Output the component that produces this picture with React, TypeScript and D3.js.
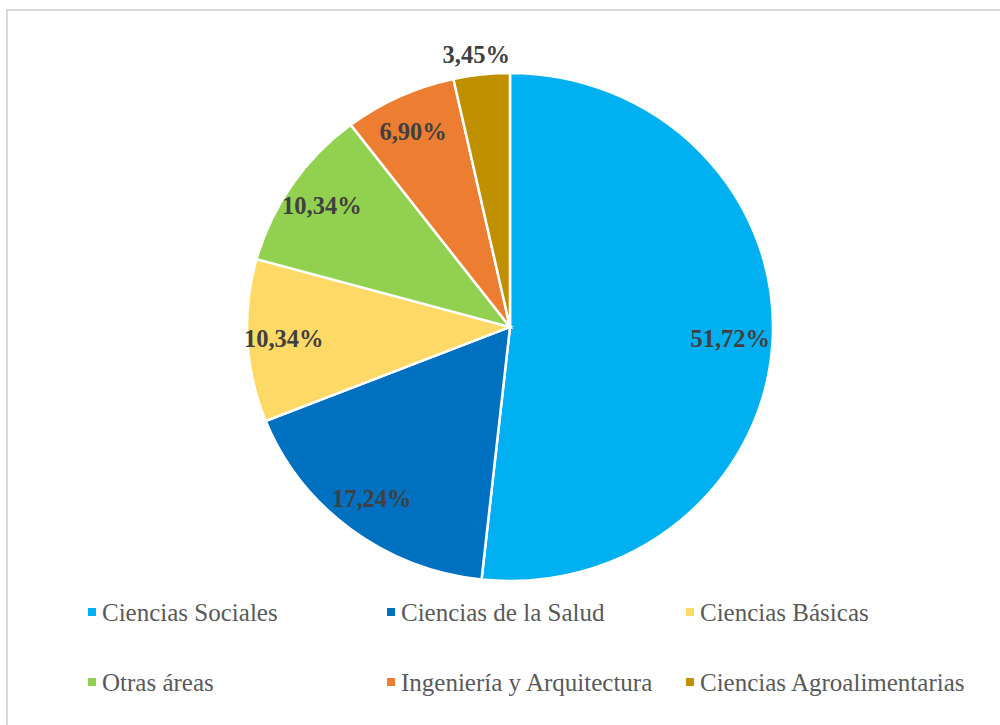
import { useEffect, useRef } from "react";
import * as d3 from "d3";

const categories = [
  "Ciencias Sociales",
  "Ciencias de la Salud",
  "Ciencias Básicas",
  "Otras áreas",
  "Ingeniería y Arquitectura",
  "Ciencias Agroalimentarias",
];
const values = [51.72, 17.24, 10.34, 10.34, 6.9, 3.45];
const colors = ["#00B0F0", "#0070C0", "#FFD966", "#92D050", "#ED7D31", "#BF9000"];

const PieChart = ({ width = 1000, height = 725 }) => {
  const ref = useRef<SVGSVGElement | null>(null);

  useEffect(() => {
    if (!ref.current) return;
    const svg = d3.select(ref.current);
    svg.selectAll("*").remove(); // Clear previous content

    // chart area frame
    svg
      .append("rect")
      .attr("x", 7)
      .attr("y", 10)
      .attr("width", width + 20)
      .attr("height", height + 20)
      .attr("fill", "#fff")
      .attr("stroke", "#d9d9d9")
      .attr("stroke-width", 2);

    const cx = 510;
    const cy = 327;
    const ry = 254;
    const rx = 263; // the original is slightly stretched horizontally
    const sx = rx / ry;

    const data = categories.map((name, i) => ({ name, value: values[i], color: colors[i] }));
    const pie = d3
      .pie<any>()
      .sort(null)
      .value((d) => d.value);
    const arcs = pie(data);

    const arc = d3.arc<any>().innerRadius(0).outerRadius(ry);

    const g = svg.append("g").attr("transform", `translate(${cx},${cy}) scale(${sx},1)`);
    g.selectAll("path")
      .data(arcs)
      .join("path")
      .attr("d", arc)
      .attr("fill", (d) => d.data.color)
      .attr("stroke", "#fff")
      .attr("stroke-width", 2.5)
      .attr("vector-effect", "non-scaling-stroke");

    // data labels: inside for wide slices, outside for the small one
    const fmt = (v: number) => v.toFixed(2).replace(".", ",") + "%";
    svg
      .append("g")
      .selectAll("text")
      .data(arcs)
      .join("text")
      .attr("transform", (d) => {
        const r = d.data.value < 5 ? 1.08 * ry : 0.85 * ry;
        const [x, y] = d3.arc<any>().innerRadius(r).outerRadius(r).centroid(d);
        return `translate(${cx + x * sx - 3},${cy + y})`;
      })
      .attr("text-anchor", "middle")
      .attr("dy", "0.35em")
      .attr("font-family", "'Liberation Serif', 'Times New Roman', serif")
      .attr("font-weight", "bold")
      .attr("font-size", 24.5)
      .attr("fill", "#404040")
      .text((d) => fmt(d.data.value));

    // legend, 3 columns x 2 rows
    const col = d3.scaleLinear().domain([0, 1]).range([88, 387]);
    const row = d3.scaleLinear().domain([0, 1]).range([612, 682]);
    const lg = svg
      .append("g")
      .selectAll("g")
      .data(data)
      .join("g")
      .attr("transform", (d, i) => `translate(${col(i % 3)},${row(Math.floor(i / 3))})`);
    lg.append("rect")
      .attr("x", 0)
      .attr("y", -4)
      .attr("width", 8)
      .attr("height", 8)
      .attr("fill", (d) => d.color);
    lg.append("text")
      .attr("x", 14)
      .attr("dy", "0.35em")
      .attr("font-family", "'Liberation Serif', 'Times New Roman', serif")
      .attr("font-size", 25)
      .attr("fill", "#595959")
      .text((d) => d.name);
  }, [width, height]);

  return (
    <svg
      ref={ref}
      width={width}
      height={height}
      style={{ position: "absolute", left: 0, top: 0 }}
    ></svg>
  );
};

export default function App() {
  return <PieChart />;
}
